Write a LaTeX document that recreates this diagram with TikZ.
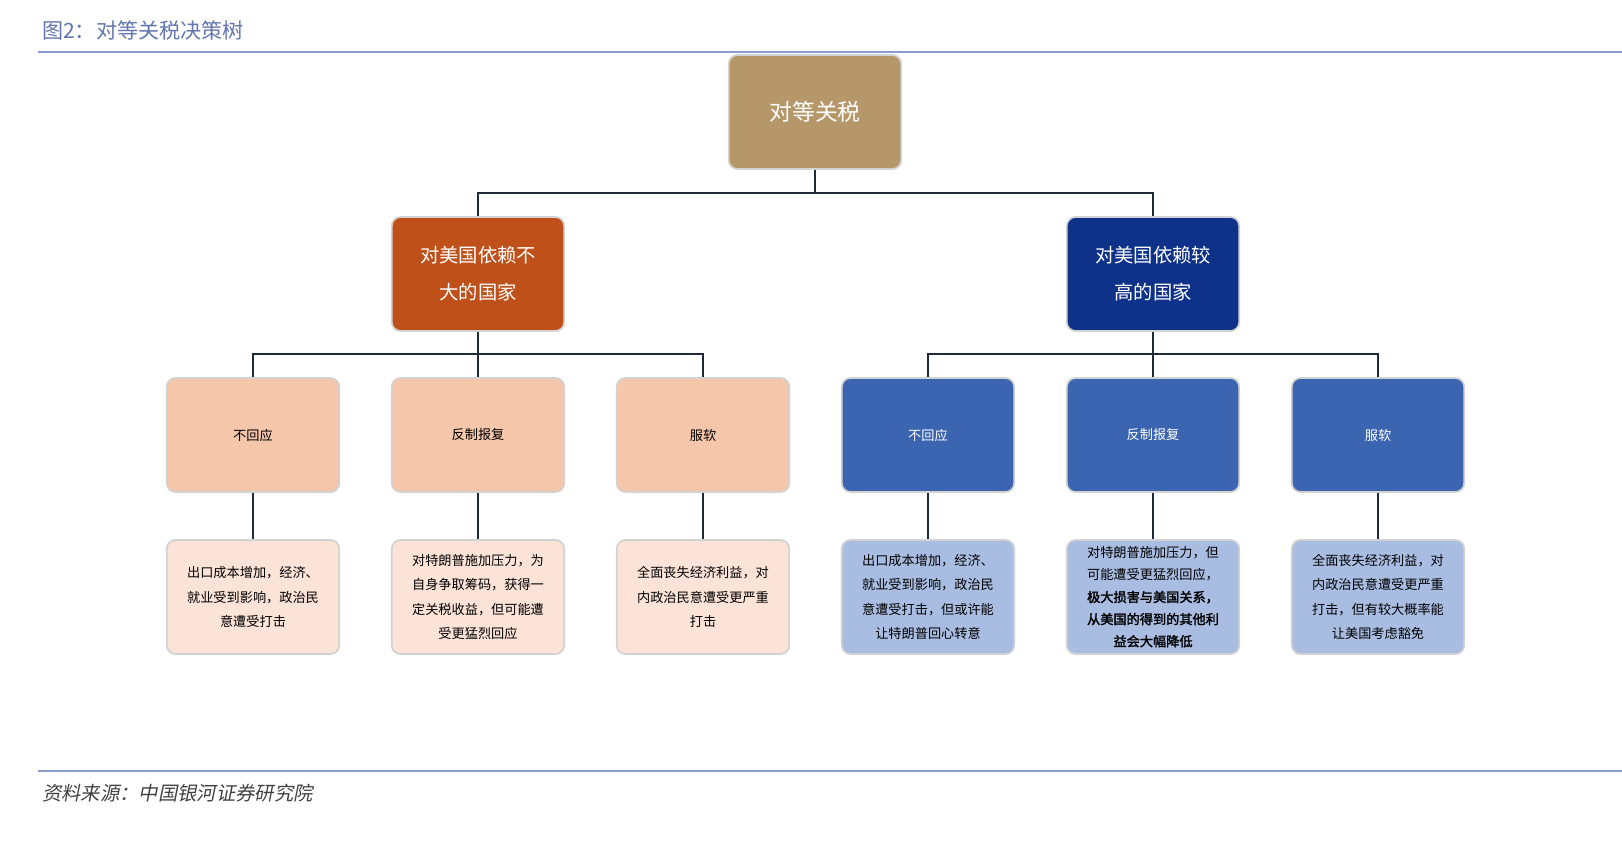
\documentclass[tikz,border=0pt]{standalone}
\usepackage{fontspec}
\setmainfont{Noto Sans CJK SC}[AutoFakeBold=2,AutoFakeSlant=0.2]
\usetikzlibrary{positioning}
\definecolor{rootc}{HTML}{B5976A}
\definecolor{lowc}{HTML}{C0501A}
\definecolor{highc}{HTML}{0E318A}
\definecolor{lowmid}{HTML}{F5C6AA}
\definecolor{highmid}{HTML}{3B65B0}
\definecolor{lowleaf}{HTML}{FCE3D8}
\definecolor{highleaf}{HTML}{A9BDE2}
\definecolor{rulec}{HTML}{8A9BD0}
\definecolor{titlec}{HTML}{6275AE}
\definecolor{linkc}{HTML}{1E2A3A}
\begin{document}
\begin{tikzpicture}[x=0.02cm,y=-0.02cm,
  box/.style={draw=gray!35,line width=1pt,rounded corners=5pt,minimum width=3.45cm,minimum height=2.28cm,align=center,inner sep=2pt},
  root/.style={box,fill=rootc,text=white,font=\fontsize{13}{16}\selectfont},
  big/.style={box,text=white,font=\fontsize{11}{21}\selectfont},
  mid/.style={box,font=\fontsize{7.5}{9}\selectfont},
  leaf/.style={box,font=\fontsize{7.5}{14}\selectfont},
  link/.style={draw=linkc,line width=1pt}]
\useasboundingbox (0,0) rectangle (1622,844);

% header and footer
\node[anchor=west,text=titlec,font=\fontsize{12}{14}\selectfont] (title) at (36,30) {图2：对等关税决策树};
\draw[rulec,line width=1pt] (38,52) -- (1622,52);
\draw[rulec,line width=1pt] (38,771) -- (1622,771);
\node[anchor=west,text=black!75,font=\fontsize{11}{13}\itshape] (src) at (36,793) {资料来源：中国银河证券研究院};

% define the boxes
\node[root] (tax) at (815,112) {对等关税};
\node[big,fill=lowc] (low) at (478,274) {对美国依赖不\\大的国家};
\node[big,fill=highc] (high) at (1153,274) {对美国依赖较\\高的国家};

\node[mid,fill=lowmid] (lnone) at (253,435) {不回应};
\node[mid,fill=lowmid] (lhit) at (478,435) {反制报复};
\node[mid,fill=lowmid] (lgive) at (703,435) {服软};
\node[mid,fill=highmid,text=white] (hnone) at (928,435) {不回应};
\node[mid,fill=highmid,text=white] (hhit) at (1153,435) {反制报复};
\node[mid,fill=highmid,text=white] (hgive) at (1378,435) {服软};

\node[leaf,fill=lowleaf] (lnoneR) at (253,597) {出口成本增加，经济、\\就业受到影响，政治民\\意遭受打击};
\node[leaf,fill=lowleaf] (lhitR) at (478,597) {对特朗普施加压力，为\\自身争取筹码，获得一\\定关税收益，但可能遭\\受更猛烈回应};
\node[leaf,fill=lowleaf] (lgiveR) at (703,597) {全面丧失经济利益，对\\内政治民意遭受更严重\\打击};
\node[leaf,fill=highleaf] (hnoneR) at (928,597) {出口成本增加，经济、\\就业受到影响，政治民\\意遭受打击，但或许能\\让特朗普回心转意};
\node[box,fill=highleaf,font=\fontsize{7.5}{12.6}\selectfont] (hhitR) at (1153,597) {对特朗普施加压力，但\\可能遭受更猛烈回应，\\\textbf{极大损害与美国关系，}\\\textbf{从美国的得到的其他利}\\\textbf{益会大幅降低}};
\node[leaf,fill=highleaf] (hgiveR) at (1378,597) {全面丧失经济利益，对\\内政治民意遭受更严重\\打击，但有较大概率能\\让美国考虑豁免};

% junctions
\coordinate (j0) at (815,193);
\coordinate (jl) at (478,354);
\coordinate (jh) at (1153,354);

% define the links
\draw[link] (tax.south) -- (j0);
\draw[link] (low.north) |- (j0) -| (high.north);
\draw[link] (low.south) -- (jl);
\draw[link] (lnone.north) |- (jl) -| (lgive.north);
\draw[link] (jl) -- (lhit.north);
\draw[link] (high.south) -- (jh);
\draw[link] (hnone.north) |- (jh) -| (hgive.north);
\draw[link] (jh) -- (hhit.north);
\foreach \a in {lnone,lhit,lgive,hnone,hhit,hgive}
  \draw[link] (\a.south) -- (\a R.north);
\end{tikzpicture}
\end{document}
